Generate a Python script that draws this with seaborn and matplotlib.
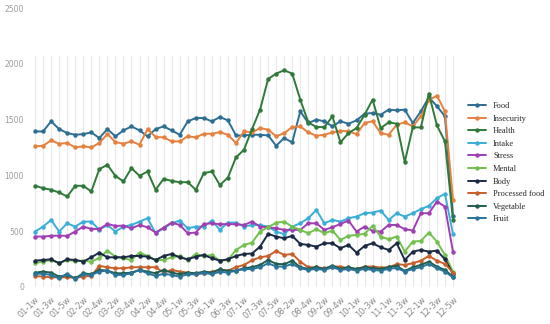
import pandas as pd
import seaborn as sns
import matplotlib.pyplot as plt

weeks = ["01-1w", "01-2w", "01-3w", "01-4w", "01-5w",
         "02-1w", "02-2w", "02-3w", "02-4w",
         "03-1w", "03-2w", "03-3w", "03-4w",
         "04-1w", "04-2w", "04-3w", "04-4w", "04-5w",
         "05-1w", "05-2w", "05-3w", "05-4w",
         "06-1w", "06-2w", "06-3w", "06-4w",
         "07-1w", "07-2w", "07-3w", "07-4w", "07-5w",
         "08-1w", "08-2w", "08-3w", "08-4w",
         "09-1w", "09-2w", "09-3w", "09-4w", "09-5w",
         "10-1w", "10-2w", "10-3w", "10-4w",
         "11-1w", "11-2w", "11-3w", "11-4w",
         "12-1w", "12-2w", "12-3w", "12-4w", "12-5w"]

food = [1394, 1394, 1484, 1415, 1380, 1364, 1370, 1385, 1335, 1415, 1350, 1403, 1439, 1403,
        1350, 1415, 1439, 1403, 1364, 1484, 1514, 1514, 1484, 1523, 1493, 1358, 1358,
        1364, 1364, 1358, 1266, 1335, 1296, 1574, 1469, 1499, 1485, 1439, 1485, 1463, 1493,
        1553, 1559, 1544, 1589, 1583, 1589, 1469, 1574, 1700, 1620, 1530, 640]
insecurity = [1260, 1266, 1313, 1284, 1290, 1251, 1260, 1251, 1290, 1371, 1299, 1284, 1305, 1275,
              1415, 1344, 1341, 1305, 1305, 1350, 1341, 1373, 1373, 1388, 1364, 1290, 1394,
              1385, 1424, 1409, 1350, 1379, 1433, 1439, 1385, 1356, 1364, 1385, 1400, 1394, 1370,
              1469, 1485, 1379, 1364, 1454, 1475, 1439, 1529, 1673, 1715, 1574, 781]
health = [907, 886, 871, 847, 811, 907, 907, 856, 1056, 1095, 996, 946, 1065, 996, 1035, 871,
          969, 951, 939, 939, 871, 1020, 1035, 913, 981, 1161, 1230, 1415, 1589, 1864, 1912,
          1942, 1912, 1679, 1475, 1433, 1433, 1529, 1296, 1379, 1424, 1544, 1679, 1424, 1475,
          1463, 1120, 1430, 1430, 1733, 1448, 1305, 600]
intake = [497, 541, 601, 497, 571, 541, 586, 586, 512, 556, 497, 541, 556, 586, 616, 482, 526,
          571, 595, 526, 541, 541, 595, 512, 577, 577, 541,
          556, 556, 541, 497, 473, 541, 571, 616, 691, 571, 601, 586, 616, 631, 661, 667, 685,
          601, 661, 631, 661, 697, 727, 796, 835, 476]
stress = [452, 452, 458, 461, 458, 497, 541, 521, 518, 565, 547, 550, 526, 556, 535, 488, 532,
          577, 556, 482, 488, 565, 571, 562, 565, 562, 556,
          586, 541, 535, 526, 512, 512, 512, 571, 571, 512, 535, 565, 595, 497, 541, 503, 497,
          556, 556, 518, 506, 661, 661, 766, 721, 317]
mental = [213, 228, 242, 213, 242, 233, 236, 228, 258, 326, 272, 258, 242, 308, 278, 242, 242,
          266, 278, 242, 296, 278, 287, 236, 242, 332, 377,
          398, 497, 535, 577, 586, 541, 512, 482, 518, 482, 506, 422, 458, 467, 476, 548, 452,
          428, 452, 317, 407, 413, 488, 407, 287, 137]
body = [236, 242, 248, 213, 248, 242, 228, 266, 308, 266, 266, 266, 278, 278, 272, 242, 278,
        296, 266, 248, 272, 287, 258, 236, 248, 278, 296,
        300, 362, 476, 452, 437, 458, 386, 377, 362, 392, 392, 347, 377, 308, 368, 392, 356,
        332, 392, 242, 317, 332, 317, 326, 249, 117]
processed = [99, 93, 87, 87, 87, 84, 93, 99, 189, 177, 168, 168, 177, 177, 177, 177, 129, 153,
             138, 129, 114, 123, 138, 153, 147, 177, 198,
             240, 266, 278, 323, 287, 296, 227, 177, 177, 168, 183, 183, 168, 159, 183, 183, 174,
             177, 204, 198, 213, 236, 278, 236, 207, 129]
vegetable = [129, 138, 129, 93, 108, 78, 123, 114, 153, 147, 123, 123, 129, 153, 138, 123, 153,
             129, 114, 129, 123, 138, 129, 159, 144, 147, 168,
             177, 198, 242, 207, 204, 236, 177, 162, 177, 162, 192, 162, 177, 162, 177, 168, 162,
             177, 189, 144, 177, 198, 227, 183, 153, 93]
fruit = [119, 119, 108, 78, 119, 69, 114, 108, 138, 147, 108, 108, 123, 153, 123, 99, 119, 108,
         93, 114, 114, 129, 114, 138, 129, 147, 159,
         162, 177, 213, 183, 183, 207, 168, 153, 162, 153, 177, 153, 162, 147, 162, 153, 147,
         162, 171, 138, 162, 177, 207, 168, 138, 87]

names = ["Food", "Insecurity", "Health", "Intake", "Stress", "Mental", "Body",
         "Processed food", "Vegetable", "Fruit"]
colors = ["#2d6e93", "#e5813f", "#2f7a38", "#3aaed8", "#a03fb3", "#72c14f", "#1b2b45",
          "#c95f2b", "#1f5e4f", "#2a7399"]

series = [food, insecurity, health, intake, stress, mental, body, processed, vegetable, fruit]
rows = []
for name, vals in zip(names, series):
    for i, v in enumerate(vals):
        rows.append({"pos": i, "week": weeks[i], "topic": name, "count": v})
df = pd.DataFrame(rows)

sns.set_style("white")
fig, ax = plt.subplots(figsize=(5.5, 3.24), dpi=100)
fig.subplots_adjust(left=31 / 550, right=457 / 550, bottom=1 - 287 / 324, top=1 - 8 / 324)

# light vertical stripes behind the lines
ax.vlines(range(len(weeks)), 0, 2080, color="#e9e9e9", lw=0.8, zorder=0)

sns.lineplot(data=df, x="pos", y="count", hue="topic", hue_order=names, palette=colors,
             marker="o", markersize=3.2, markeredgewidth=0, linewidth=1.4,
             errorbar=None, legend=False, ax=ax)

ax.set_xlim(-0.5, len(weeks) - 0.5)
ax.set_ylim(0, 2500)
ax.set_xlabel("")
ax.set_ylabel("")
ax.set_xticks(range(0, len(weeks), 2))
ax.set_xticklabels(weeks[::2], rotation=45, ha="right", rotation_mode="anchor",
                   fontsize=6, color="#8a8a8a")
ax.set_yticks([0, 500, 1000, 1500, 2000, 2500])
ax.set_yticklabels(["0", "500", "1000", "1500", "2000", "2500"], fontsize=5.5, color="#9a9a9a")
ax.tick_params(axis="x", length=0, pad=6)
ax.tick_params(axis="y", length=0, pad=5)
sns.despine(left=True, bottom=True)

handles = ax.get_lines()[:len(names)]
fig.legend(handles, names, loc="upper left", bbox_to_anchor=(468 / 550, 1 - 102 / 324),
           frameon=False, prop={"family": "Liberation Serif", "size": 6},
           handlelength=2.2, handletextpad=0.8, labelspacing=0.55,
           borderpad=0, borderaxespad=0)

plt.savefig("out.png", dpi=100)
